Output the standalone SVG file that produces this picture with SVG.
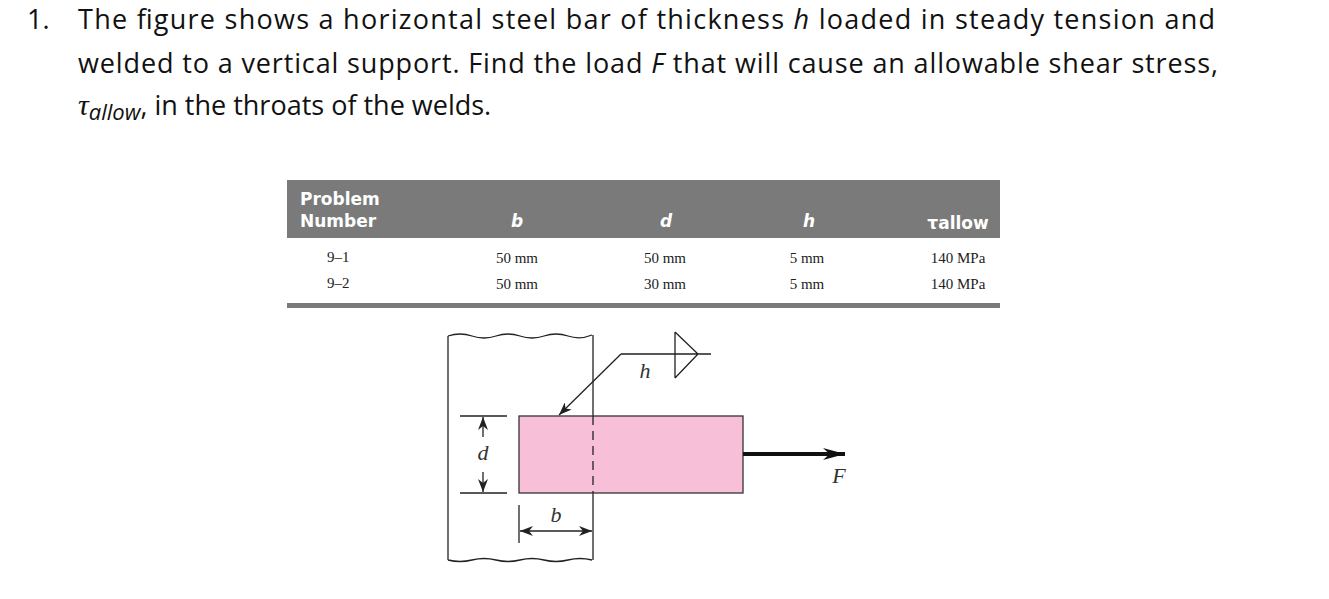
<svg xmlns="http://www.w3.org/2000/svg" width="1329" height="599" viewBox="0 0 1329 599">
<style>
.q{font-family:"Open Sans","DejaVu Sans",sans-serif;font-size:27px;fill:#111}
.hd{font-family:"DejaVu Sans",sans-serif;font-weight:bold;font-size:17px;fill:#fff}
.cell{font-family:"Liberation Serif",serif;font-size:15px;fill:#222}
.lbl{font-family:"Liberation Serif",serif;font-style:italic;font-size:22px;fill:#333}
.ln{stroke:#222;stroke-width:1.3;fill:none}
</style>
<defs>
<marker id="ah" viewBox="0 0 10 10" refX="10" refY="5" markerWidth="13" markerHeight="10" orient="auto-start-reverse" markerUnits="userSpaceOnUse" preserveAspectRatio="none"><path d="M0,0 L10,5 L0,10 L3,5 Z" fill="#222"/></marker>
<marker id="ahF" viewBox="0 0 10 10" refX="10" refY="5" markerWidth="22" markerHeight="12" orient="auto" markerUnits="userSpaceOnUse" preserveAspectRatio="none"><path d="M0,0 L10,5 L0,10 L3,5 Z" fill="#111"/></marker>
</defs>
<rect width="1329" height="599" fill="#fff"/>
<g id="question">
<text class="q" x="27" y="29">1.</text>
<text class="q" x="78" y="29" textLength="1137" lengthAdjust="spacing">The figure shows a horizontal steel bar of thickness <tspan font-style="italic">h</tspan> loaded in steady tension and</text>
<text class="q" x="78" y="73" textLength="1140" lengthAdjust="spacing">welded to a vertical support. Find the load <tspan font-style="italic">F</tspan> that will cause an allowable shear stress,</text>
<text class="q" x="78" y="115"><tspan font-family="Liberation Serif" font-style="italic" font-size="30">τ</tspan><tspan font-style="italic" font-size="22" dy="5">allow</tspan><tspan dy="-5">, in the throats of the welds.</tspan></text>
</g>
<g id="table">
<rect x="287" y="180" width="713" height="58" fill="#7a7a7a"/>
<text class="hd" x="300" y="205">Problem</text>
<text class="hd" x="300" y="227">Number</text>
<text class="hd" x="517" y="227" text-anchor="middle" font-style="italic">b</text>
<text class="hd" x="666" y="227" text-anchor="middle" font-style="italic">d</text>
<text class="hd" x="809" y="227" text-anchor="middle" font-style="italic">h</text>
<text class="hd" x="958" y="229" text-anchor="middle" font-size="13">τallow</text>
<text class="cell" x="327" y="262">9–1</text>
<text class="cell" x="327" y="288">9–2</text>
<text class="cell" x="517" y="263" text-anchor="middle">50 mm</text>
<text class="cell" x="517" y="289" text-anchor="middle">50 mm</text>
<text class="cell" x="665" y="263" text-anchor="middle">50 mm</text>
<text class="cell" x="665" y="289" text-anchor="middle">30 mm</text>
<text class="cell" x="807" y="263" text-anchor="middle">5 mm</text>
<text class="cell" x="807" y="289" text-anchor="middle">5 mm</text>
<text class="cell" x="958" y="263" text-anchor="middle">140 MPa</text>
<text class="cell" x="958" y="289" text-anchor="middle">140 MPa</text>
<rect x="287" y="303" width="713" height="5" fill="#7a7a7a"/>
</g>
<g id="support">
<path class="ln" d="M448,336 q12,-4 24,0 t24,0 t24,0 t24,0 t24,0 t24,-1 M448,336 V560 M593,335 V416 M593,493 V560 M448,560 q12,3 24,0 t24,0 t24,0 t24,0 t24,0 t24,0"/>
</g>
<g id="bar">
<rect x="519" y="416" width="224" height="77" fill="#f7c0d8" stroke="#333" stroke-width="1.3"/>
<path class="ln" d="M593,416 V493" stroke-dasharray="9,6"/>
</g>
<g id="weld-symbol">
<path class="ln" d="M711,354 H621 M675,332 V378 M675,332 L698,354 L675,378"/>
<text class="lbl" x="645" y="378" text-anchor="middle">h</text>
</g>
<g id="connectors">
<path class="ln" d="M621,354 L559,415" marker-end="url(#ah)"/>
<path class="ln" d="M460,416 H507 M460,493 H507"/>
<path class="ln" d="M483,437 V417" marker-end="url(#ah)"/>
<path class="ln" d="M483,472 V492" marker-end="url(#ah)"/>
<text class="lbl" x="483" y="460" text-anchor="middle">d</text>
<path class="ln" d="M519,505 V543"/>
<path class="ln" d="M520,531 H592" marker-start="url(#ah)" marker-end="url(#ah)"/>
<text class="lbl" x="556" y="522" text-anchor="middle">b</text>
<path d="M743,454 H845" stroke="#111" stroke-width="4" marker-end="url(#ahF)"/>
<text class="lbl" x="839" y="483" text-anchor="middle">F</text>
</g>
</svg>
